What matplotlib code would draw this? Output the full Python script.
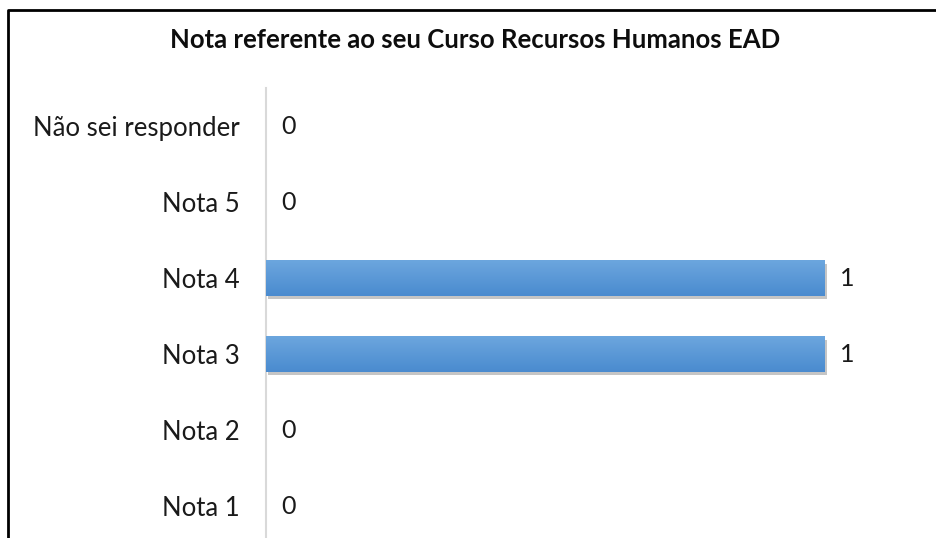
import matplotlib.pyplot as plt
import matplotlib.patheffects as pe
import numpy as np
from matplotlib.lines import Line2D

categorias = ['Nota 1', 'Nota 2', 'Nota 3', 'Nota 4', 'Nota 5', 'Não sei responder']
valores = [0, 0, 1, 1, 0, 0]
titulo = 'Nota referente ao seu Curso Recursos Humanos EAD'

plt.rcParams['font.family'] = ['Lato', 'DejaVu Sans']

W, H = 937, 538
fig = plt.figure(figsize=(W / 100, H / 100), dpi=100)
fig.patch.set_facecolor('white')

# eixo posicionado em pixels
x0, x1 = 266, 930
y_top, y_bot = 88, 544
ax = fig.add_axes([x0 / W, (H - y_bot) / H, (x1 - x0) / W, (y_bot - y_top) / H])

y = np.arange(len(categorias))
bars = ax.barh(y, valores, height=0.47, color='#5b9bd5', zorder=2,
               path_effects=[pe.SimplePatchShadow(offset=(1.5, -2.5), shadow_rgbFace='#707070', alpha=0.4), pe.Normal()])

# degradê nas barras
grad = np.linspace(0, 1, 64).reshape(-1, 1)
cmap = plt.matplotlib.colors.LinearSegmentedColormap.from_list('g', ['#6ca6de', '#4a8bcf'])
for b in bars:
    if b.get_width() <= 0:
        continue
    xb, yb, wb, hb = b.get_x(), b.get_y(), b.get_width(), b.get_height()
    im = ax.imshow(grad, cmap=cmap, aspect='auto', extent=[xb, xb + wb, yb, yb + hb],
                   origin='upper', zorder=3)
    im.set_clip_path(b)

for yi, v in zip(y, valores):
    ax.annotate(str(v), (v, yi), xytext=(11, 0), textcoords='offset points',
                ha='left', va='center', fontsize=18, color='#1a1a1a')

ax.set_xlim(0, (x1 - x0) / (825 - x0))
ax.set_ylim(-0.5, len(categorias) - 0.5)
ax.set_yticks(y)
ax.set_yticklabels(categorias, fontsize=18.5, color='#1a1a1a')
ax.set_xticks([])
ax.tick_params(axis='y', length=0, pad=19)
for s in ['top', 'right', 'bottom']:
    ax.spines[s].set_visible(False)
ax.spines['left'].set_color('#d9d9d9')
ax.spines['left'].set_linewidth(1.5)

fig.text(475 / W, 1 - 40 / H, titulo, ha='center', va='center', fontsize=18.5, fontweight='bold', color='#0d0d0d')

# moldura
fig.add_artist(Line2D([8 / W, 8 / W, 1.02], [-0.02, 1 - 10 / H, 1 - 10 / H], transform=fig.transFigure,
                      color='black', linewidth=2))

fig.savefig('out.png', dpi=100)
